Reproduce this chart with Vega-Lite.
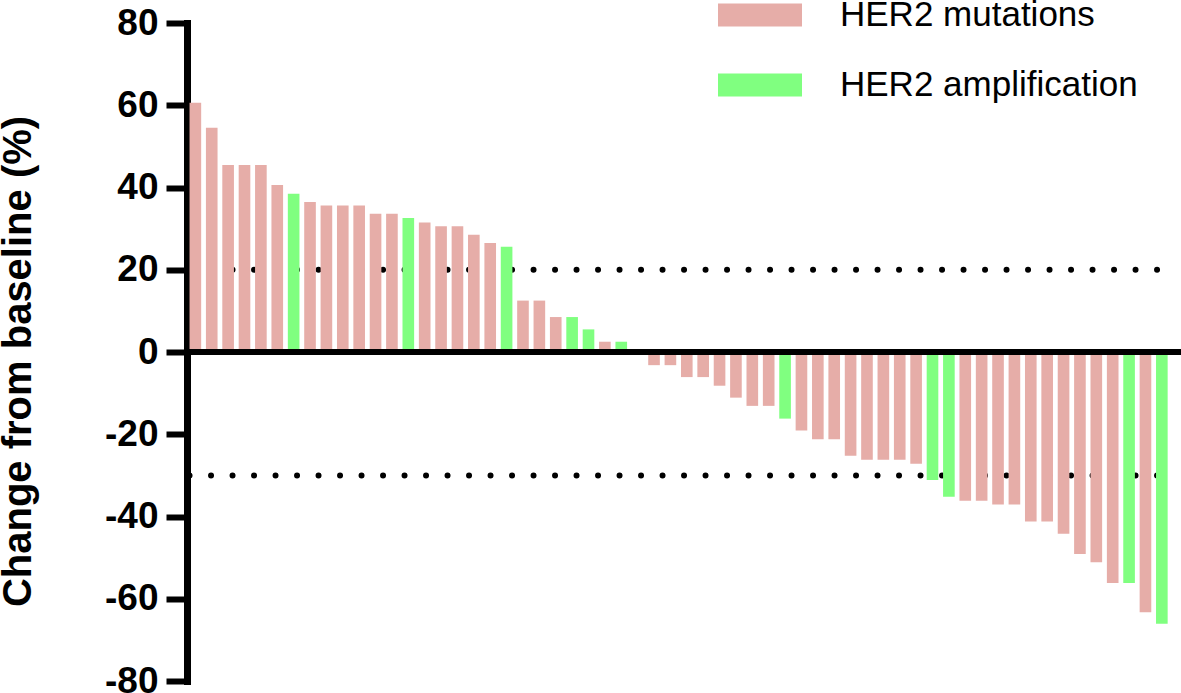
{
  "$schema": "https://vega.github.io/schema/vega-lite/v6.json",
  "width": 994,
  "height": 658,
  "autosize": "none",
  "padding": {"left": 187, "top": 23, "right": 0, "bottom": 12},
  "background": "white",
  "config": {"view": {"stroke": null}},
  "datasets": {
    "patients": [
      {"patient": 1, "change": 60.6, "alteration": "HER2 mutations"},
      {"patient": 2, "change": 54.5, "alteration": "HER2 mutations"},
      {"patient": 3, "change": 45.5, "alteration": "HER2 mutations"},
      {"patient": 4, "change": 45.5, "alteration": "HER2 mutations"},
      {"patient": 5, "change": 45.5, "alteration": "HER2 mutations"},
      {"patient": 6, "change": 40.6, "alteration": "HER2 mutations"},
      {"patient": 7, "change": 38.5, "alteration": "HER2 amplification"},
      {"patient": 8, "change": 36.5, "alteration": "HER2 mutations"},
      {"patient": 9, "change": 35.6, "alteration": "HER2 mutations"},
      {"patient": 10, "change": 35.6, "alteration": "HER2 mutations"},
      {"patient": 11, "change": 35.6, "alteration": "HER2 mutations"},
      {"patient": 12, "change": 33.6, "alteration": "HER2 mutations"},
      {"patient": 13, "change": 33.6, "alteration": "HER2 mutations"},
      {"patient": 14, "change": 32.6, "alteration": "HER2 amplification"},
      {"patient": 15, "change": 31.5, "alteration": "HER2 mutations"},
      {"patient": 16, "change": 30.6, "alteration": "HER2 mutations"},
      {"patient": 17, "change": 30.6, "alteration": "HER2 mutations"},
      {"patient": 18, "change": 28.5, "alteration": "HER2 mutations"},
      {"patient": 19, "change": 26.5, "alteration": "HER2 mutations"},
      {"patient": 20, "change": 25.6, "alteration": "HER2 amplification"},
      {"patient": 21, "change": 12.5, "alteration": "HER2 mutations"},
      {"patient": 22, "change": 12.5, "alteration": "HER2 mutations"},
      {"patient": 23, "change": 8.5, "alteration": "HER2 mutations"},
      {"patient": 24, "change": 8.5, "alteration": "HER2 amplification"},
      {"patient": 25, "change": 5.5, "alteration": "HER2 amplification"},
      {"patient": 26, "change": 2.5, "alteration": "HER2 mutations"},
      {"patient": 27, "change": 2.5, "alteration": "HER2 amplification"},
      {"patient": 28, "change": 0, "alteration": "HER2 mutations"},
      {"patient": 29, "change": -3.2, "alteration": "HER2 mutations"},
      {"patient": 30, "change": -3.2, "alteration": "HER2 mutations"},
      {"patient": 31, "change": -6.1, "alteration": "HER2 mutations"},
      {"patient": 32, "change": -6.1, "alteration": "HER2 mutations"},
      {"patient": 33, "change": -8.2, "alteration": "HER2 mutations"},
      {"patient": 34, "change": -11.1, "alteration": "HER2 mutations"},
      {"patient": 35, "change": -13.1, "alteration": "HER2 mutations"},
      {"patient": 36, "change": -13.1, "alteration": "HER2 mutations"},
      {"patient": 37, "change": -16.2, "alteration": "HER2 amplification"},
      {"patient": 38, "change": -19.1, "alteration": "HER2 mutations"},
      {"patient": 39, "change": -21.2, "alteration": "HER2 mutations"},
      {"patient": 40, "change": -21.2, "alteration": "HER2 mutations"},
      {"patient": 41, "change": -25.2, "alteration": "HER2 mutations"},
      {"patient": 42, "change": -26.2, "alteration": "HER2 mutations"},
      {"patient": 43, "change": -26.2, "alteration": "HER2 mutations"},
      {"patient": 44, "change": -26.2, "alteration": "HER2 mutations"},
      {"patient": 45, "change": -27.2, "alteration": "HER2 mutations"},
      {"patient": 46, "change": -31.1, "alteration": "HER2 amplification"},
      {"patient": 47, "change": -35.2, "alteration": "HER2 amplification"},
      {"patient": 48, "change": -36.2, "alteration": "HER2 mutations"},
      {"patient": 49, "change": -36.2, "alteration": "HER2 mutations"},
      {"patient": 50, "change": -37.1, "alteration": "HER2 mutations"},
      {"patient": 51, "change": -37.1, "alteration": "HER2 mutations"},
      {"patient": 52, "change": -41.2, "alteration": "HER2 mutations"},
      {"patient": 53, "change": -41.2, "alteration": "HER2 mutations"},
      {"patient": 54, "change": -44.2, "alteration": "HER2 mutations"},
      {"patient": 55, "change": -49.1, "alteration": "HER2 mutations"},
      {"patient": 56, "change": -51.1, "alteration": "HER2 mutations"},
      {"patient": 57, "change": -56.2, "alteration": "HER2 mutations"},
      {"patient": 58, "change": -56.2, "alteration": "HER2 amplification"},
      {"patient": 59, "change": -63.3, "alteration": "HER2 mutations"},
      {"patient": 60, "change": -66.1, "alteration": "HER2 amplification"}
    ],
    "thresholds": [
      {"threshold": 20, "first": 1, "last": 60},
      {"threshold": -30, "first": 1, "last": 60}
    ]
  },
  "layer": [
    {
      "data": {"name": "thresholds"},
      "mark": {"type": "rule", "strokeDash": [0, 21.5], "strokeCap": "round", "strokeWidth": 6, "color": "black"},
      "encoding": {
        "x": {"field": "first", "type": "ordinal", "bandPosition": 0, "axis": null},
        "x2": {"field": "last", "bandPosition": 1},
        "y": {"field": "threshold", "type": "quantitative"}
      }
    },
    {
      "data": {"name": "patients"},
      "mark": {"type": "bar"},
      "encoding": {
        "x": {
          "field": "patient",
          "type": "ordinal",
          "axis": null,
          "scale": {
            "type": "band",
            "domain": [1,2,3,4,5,6,7,8,9,10,11,12,13,14,15,16,17,18,19,20,21,22,23,24,25,26,27,28,29,30,31,32,33,34,35,36,37,38,39,40,41,42,43,44,45,46,47,48,49,50,51,52,53,54,55,56,57,58,59,60],
            "paddingInner": 0.29,
            "paddingOuter": 0.485,
            "align": 0.16
          }
        },
        "y": {
          "field": "change",
          "type": "quantitative",
          "scale": {"domain": [-80, 80], "nice": false, "zero": false},
          "axis": {
            "title": "Change from baseline (%)",
            "values": [-80, -60, -40, -20, 0, 20, 40, 60, 80],
            "labelExpr": "'' + datum.value",
            "grid": false,
            "domainColor": "black",
            "domainWidth": 7,
            "domainCap": "square",
            "tickColor": "black",
            "tickWidth": 6,
            "tickSize": 21,
            "labelFont": "Liberation Sans",
            "labelFontSize": 37,
            "labelFontWeight": "bold",
            "labelColor": "black",
            "labelPadding": 8,
            "labelFlush": false,
            "labelOverlap": false,
            "titleFont": "Liberation Sans",
            "titleFontSize": 40,
            "titleFontWeight": "bold",
            "titleColor": "black",
            "titleAngle": -90,
            "titleAlign": "center",
            "titleBaseline": "alphabetic",
            "titleX": -157,
            "titleY": 338
          }
        },
        "color": {
          "field": "alteration",
          "type": "nominal",
          "scale": {"domain": ["HER2 mutations", "HER2 amplification"], "range": ["#E6ADA8", "#80FF80"]},
          "legend": {
            "title": null,
            "orient": "none",
            "legendX": 531,
            "legendY": -50,
            "padding": 0,
            "symbolType": "M-1,-0.274H1V0.274H-1Z",
            "symbolSize": 7056,
            "symbolStrokeWidth": 0,
            "symbolOpacity": 1,
            "labelFont": "Liberation Sans",
            "labelFontSize": 35,
            "labelColor": "black",
            "labelOffset": 38,
            "labelLimit": 0,
            "rowPadding": 10
          }
        }
      }
    },
    {
      "data": {"values": [{}]},
      "mark": {"type": "rule", "strokeWidth": 6, "color": "black"},
      "encoding": {"y": {"datum": 0}}
    }
  ]
}
